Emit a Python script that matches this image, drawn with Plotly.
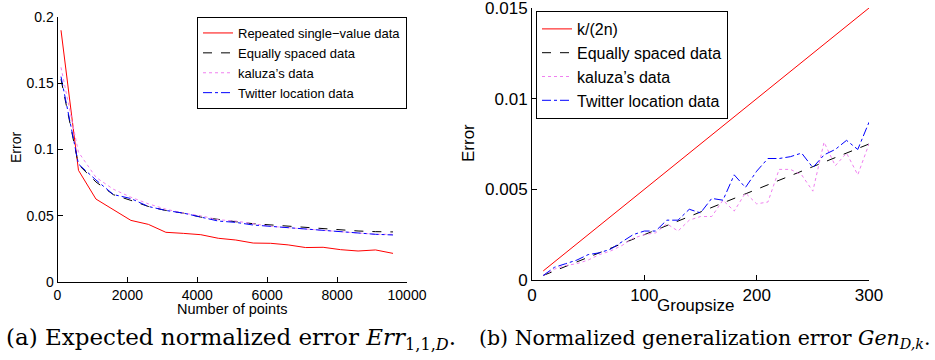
import plotly.graph_objects as go

# ---------- Left panel data ----------
n_points = [100, 600, 1100, 1600, 2100, 2600, 3100, 3600, 4100, 4600,
            5100, 5600, 6100, 6600, 7100, 7600, 8100, 8600, 9100, 9600]
repeated = [0.190, 0.0843, 0.0626, 0.0546, 0.0465, 0.0435, 0.0375, 0.0367, 0.0357, 0.0330,
            0.0317, 0.0294, 0.0292, 0.0280, 0.0260, 0.0262, 0.0244, 0.0234, 0.0242, 0.0216]
equally_a = [0.153, 0.0886, 0.0755, 0.0659, 0.0616, 0.0570, 0.0540, 0.0520, 0.0490, 0.0470,
             0.0455, 0.0440, 0.0430, 0.0420, 0.0410, 0.0400, 0.0390, 0.0385, 0.0380, 0.0378]
kaluza_a = [0.162, 0.0980, 0.0790, 0.0700, 0.0640, 0.0590, 0.0550, 0.0520, 0.0500, 0.0470,
            0.0460, 0.0440, 0.0420, 0.0410, 0.0400, 0.0390, 0.0380, 0.0370, 0.0360, 0.0360]
twitter_a = [0.155, 0.0890, 0.0770, 0.0660, 0.0630, 0.0570, 0.0540, 0.0520, 0.0490, 0.0460,
             0.0450, 0.0430, 0.0420, 0.0410, 0.0400, 0.0390, 0.0380, 0.0365, 0.0360, 0.0355]

# ---------- Right panel data ----------
groupsize = [10, 20, 30, 40, 50, 60, 70, 80, 90, 100, 110, 120, 130, 140, 150,
             160, 170, 180, 190, 200, 210, 220, 230, 240, 250, 260, 270, 280, 290, 300]
k_over_2n = [0.0005, 0.0010, 0.0015, 0.0020, 0.0025, 0.0030, 0.0035, 0.0040, 0.0045, 0.0050,
             0.0055, 0.0060, 0.0065, 0.0070, 0.0075, 0.0080, 0.0085, 0.0090, 0.0095, 0.0100,
             0.0105, 0.0110, 0.0115, 0.0120, 0.0125, 0.0130, 0.0135, 0.0140, 0.0145, 0.0150]
equally_b = [0.00025, 0.0005, 0.00075, 0.0010, 0.00125, 0.0015, 0.00175, 0.0020, 0.00225, 0.0025,
             0.00275, 0.0030, 0.00325, 0.0035, 0.00375, 0.0040, 0.00425, 0.0045, 0.00475, 0.0050,
             0.00525, 0.0055, 0.00575, 0.0060, 0.00625, 0.0065, 0.00675, 0.0070, 0.00725, 0.0075]
kaluza_b = [0.00025, 0.0006, 0.0008, 0.0009, 0.0011, 0.0014, 0.0016, 0.0019, 0.0023, 0.0025,
            0.0026, 0.0031, 0.0027, 0.0033, 0.0035, 0.0035, 0.0044, 0.0038, 0.0048, 0.0042,
            0.0043, 0.0061, 0.0061, 0.0058, 0.0049, 0.0076, 0.0063, 0.0070, 0.0058, 0.0075]
twitter_b = [0.00025, 0.0007, 0.0009, 0.0011, 0.0014, 0.0015, 0.0017, 0.0021, 0.0025, 0.0027,
             0.0027, 0.0033, 0.0033, 0.0039, 0.0037, 0.0045, 0.0044, 0.0058, 0.0051, 0.0060,
             0.0067, 0.0067, 0.0068, 0.0070, 0.0062, 0.0069, 0.0072, 0.0077, 0.0072, 0.0087]

x_ticks_a = [0, 2000, 4000, 6000, 8000, 10000]
y_ticks_a = [0, 0.05, 0.1, 0.15, 0.2]
y_ticklabels_a = ["0", "0.05", "0.1", "0.15", "0.2"]
x_ticks_b = [0, 100, 200, 300]
y_ticks_b = [0, 0.005, 0.01, 0.015]
y_ticklabels_b = ["0", "0.005", "0.01", "0.015"]

W, H = 935, 360
RED, BLACK, PINK, BLUE = "#ff0000", "#000000", "#f080f0", "#0000ff"

fig = go.Figure()
series_a = [("Repeated single\u2212value data", repeated, RED, "solid"),
            ("Equally spaced data", equally_a, BLACK, "dash"),
            ("kaluza\u2019s data", kaluza_a, PINK, "dot"),
            ("Twitter location data", twitter_a, BLUE, "dashdot")]
for name, ys, col, dash in series_a:
    fig.add_trace(go.Scatter(x=n_points, y=ys, name=name, mode="lines",
                             line=dict(color=col, width=1, dash=dash),
                             xaxis="x", yaxis="y", legend="legend"))

series_b = [("k/(2n)", k_over_2n, RED, "solid"),
            ("Equally spaced data", equally_b, BLACK, "dash"),
            ("kaluza\u2019s data", kaluza_b, PINK, "dot"),
            ("Twitter location data", twitter_b, BLUE, "dashdot")]
for name, ys, col, dash in series_b:
    fig.add_trace(go.Scatter(x=groupsize, y=ys, name=name, mode="lines",
                             line=dict(color=col, width=1, dash=dash),
                             xaxis="x2", yaxis="y2", legend="legend2"))

def px_x(p):
    return p / W

def px_y(p):
    return 1 - p / H

axis_common = dict(showgrid=False, zeroline=False, showline=True, linecolor="black",
                   linewidth=1, ticks="inside", ticklen=5, tickcolor="black",
                   mirror=False, automargin=False, ticklabeloverflow="allow")
sans = "Liberation Sans, Arial, sans-serif"
tick_font_a = dict(family=sans, size=14, color="black")
tick_font_b = dict(family=sans, size=17, color="black")

fig.update_layout(
    width=W, height=H,
    margin=dict(l=0, r=0, t=0, b=0, pad=0, autoexpand=False),
    paper_bgcolor="white", plot_bgcolor="white",
    xaxis=dict(domain=[px_x(57.5), px_x(407)], range=[0, 10000], anchor="y",
               tickvals=x_ticks_a, ticktext=[str(v) for v in x_ticks_a],
               tickfont=tick_font_a, **axis_common),
    yaxis=dict(domain=[px_y(282), px_y(17)], range=[0, 0.2], anchor="x",
               tickvals=y_ticks_a, ticktext=y_ticklabels_a,
               tickfont=tick_font_a, **axis_common),
    xaxis2=dict(domain=[px_x(532), px_x(869)], range=[0, 300], anchor="y2",
                tickvals=x_ticks_b, ticktext=[str(v) for v in x_ticks_b],
                tickfont=tick_font_b, **axis_common),
    yaxis2=dict(domain=[px_y(280), px_y(8)], range=[0, 0.015], anchor="x2",
                tickvals=y_ticks_b, ticktext=y_ticklabels_b,
                tickfont=tick_font_b, **axis_common),
    legend=dict(x=px_x(197), y=px_y(17), xanchor="left", yanchor="top",
                bordercolor="black", borderwidth=1, bgcolor="white",
                font=dict(family=sans, size=13, color="black"),
                itemwidth=30, tracegroupgap=0),
    legend2=dict(x=px_x(536), y=px_y(11), xanchor="left", yanchor="top",
                 bordercolor="black", borderwidth=1, bgcolor="white",
                 font=dict(family=sans, size=16, color="black"),
                 itemwidth=30, tracegroupgap=0),
    showlegend=True,
)

def label(x, y, text, size, family=sans, angle=0, xanchor="center"):
    return dict(x=px_x(x), y=px_y(y), xref="paper", yref="paper", text=text,
                textangle=angle, showarrow=False, xanchor=xanchor, yanchor="middle",
                font=dict(family=family, size=size, color="black"))

serif = "DejaVu Serif, Liberation Serif, serif"
ann = [
    label(16, 148, "Error", 14, angle=-90),
    label(232, 309, "Number of points", 14.5),
    label(469, 143, "Error", 17, angle=-90),
    label(695, 305, "Groupsize", 17),
    label(4, 339, "(a) Expected normalized error <i>Err</i><sub>1,1,<i>D</i></sub>.",
          23, family=serif, xanchor="left"),
    label(477, 339, "(b) Normalized generalization error <i>Gen</i><sub><i>D,k</i></sub>.",
          20.5, family=serif, xanchor="left"),
]
fig.update_layout(annotations=ann)

fig.write_html("out.html", config={"displayModeBar": False},
               post_script="document.body.style.margin='0';")
